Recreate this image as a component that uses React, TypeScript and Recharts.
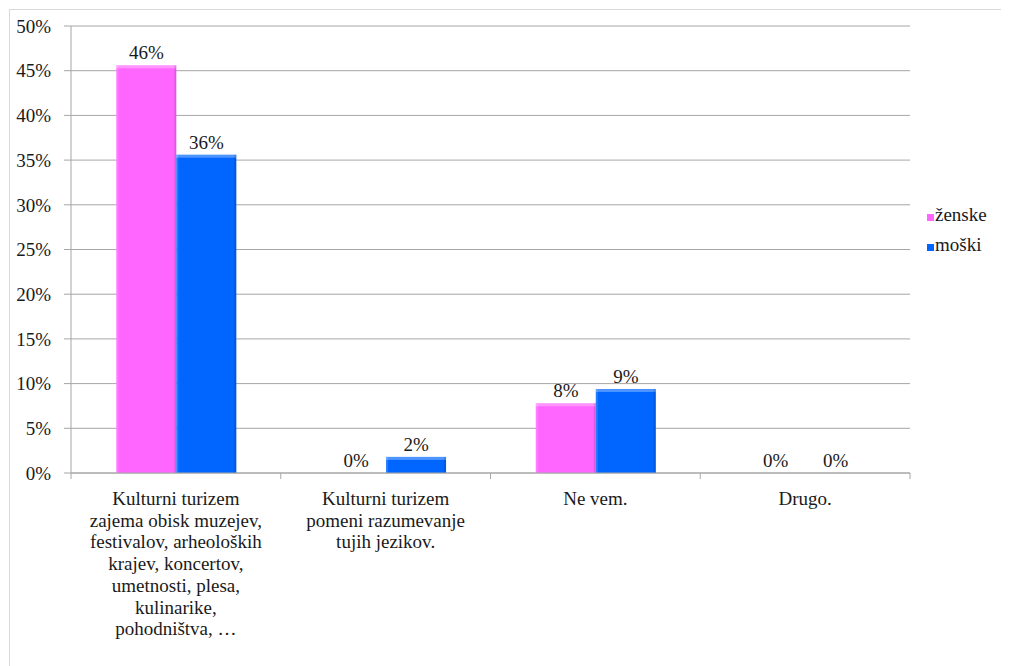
import React from "react";
import {
  BarChart,
  Bar,
  XAxis,
  YAxis,
  CartesianGrid,
  LabelList,
} from "recharts";

const categories = [
  "Kulturni turizem\nzajema obisk muzejev,\nfestivalov, arheoloških\nkrajev, koncertov,\numetnosti, plesa,\nkulinarike,\npohodništva, …",
  "Kulturni turizem\npomeni razumevanje\ntujih jezikov.",
  "Ne vem.",
  "Drugo.",
];
const zenske = [45.6, 0, 7.8, 0];
const moski = [35.6, 1.8, 9.4, 0];
const yTicks = [0, 5, 10, 15, 20, 25, 30, 35, 40, 45, 50];
const seriesNames = ["ženske", "moški"];
const seriesColors = ["#ff66ff", "#0066ff"];

const data = categories.map((c, i) => ({ name: c, zenske: zenske[i], moski: moski[i] }));

const FONT = '"Liberation Serif"';
const TEXT = "#1a1a1a";
const GRID = "#a6a6a6";

function CategoryTick(props: any) {
  const { x, y, payload, index } = props;
  const lines: string[] = String(payload.value).split("\n");
  const half = payload.offset ?? 104.9;
  return (
    <g>
      <line x1={x - half} x2={x - half} y1={y - 8} y2={y - 2} stroke={GRID} />
      {index === categories.length - 1 && (
        <line x1={x + half} x2={x + half} y1={y - 8} y2={y - 2} stroke={GRID} />
      )}
      <text x={x} y={y + 24} textAnchor="middle" style={{ fontFamily: FONT }} fontSize={19} fill={TEXT}>
        {lines.map((l, i) => (
          <tspan key={i} x={x} dy={i === 0 ? 0 : 21.7}>
            {l}
          </tspan>
        ))}
      </text>
    </g>
  );
}

function BevelBar(props: any) {
  const { x, y, width, height, fill } = props;
  if (!height || height <= 0) return null;
  return (
    <g>
      <rect x={x} y={y} width={width} height={height} fill={fill} />
      <rect x={x} y={y} width={width} height={Math.min(3, height)} fill="#ffffff" fillOpacity={0.3} />
      <rect x={x} y={y} width={2} height={height} fill="#ffffff" fillOpacity={0.15} />
      <rect x={x + width - 2} y={y} width={2} height={height} fill="#000000" fillOpacity={0.12} />
    </g>
  );
}

function LegendBox() {
  return (
    <div
      style={{
        position: "absolute",
        left: 919,
        top: 192,
        fontFamily: FONT,
        fontSize: 19,
        color: TEXT,
      }}
    >
      {seriesNames.map((n, i) => (
        <div key={n} style={{ display: "flex", alignItems: "center", height: 30 }}>
          <span
            style={{
              display: "inline-block",
              width: 7,
              height: 7,
              background: seriesColors[i],
              marginRight: 1,
              marginTop: 4,
            }}
          />
          <span>{n}</span>
        </div>
      ))}
    </div>
  );
}

export default function App() {
  return (
    <div style={{ position: "relative", width: 1000, height: 658, fontFamily: FONT }}>
      <div
        style={{
          position: "absolute",
          left: 1,
          top: 1,
          width: 999,
          height: 657,
          borderTop: "1px solid #d9d9d9",
          borderLeft: "1px solid #d9d9d9",
          boxSizing: "border-box",
        }}
      />
      <BarChart
        width={1000}
        height={658}
        data={data}
        margin={{ top: 18, right: 98, left: 0, bottom: 0 }}
        barCategoryGap="21.6%"
        barGap={0}
      >
        <CartesianGrid vertical={false} stroke={GRID} />
        <XAxis
          dataKey="name"
          height={193}
          axisLine={{ stroke: GRID }}
          tickLine={false}
          tick={<CategoryTick />}
          interval={0}
        />
        <YAxis
          width={63}
          domain={[0, 50]}
          ticks={yTicks}
          interval={0}
          tickFormatter={(v: number) => `${v}%`}
          axisLine={{ stroke: GRID }}
          tickLine={{ stroke: GRID }}
          tickSize={7}
          tickMargin={13}
          tick={{ style: { fontFamily: FONT }, fontSize: 19, fill: TEXT }}
        />
        {(["zenske", "moski"] as const).map((k, i) => (
          <Bar
            key={k}
            dataKey={k}
            name={seriesNames[i]}
            fill={seriesColors[i]}
            shape={<BevelBar />}
            isAnimationActive={false}
          >
            <LabelList
              dataKey={k}
              position="top"
              offset={6}
              formatter={(v: any) => `${Math.round(Number(v))}%`}
              style={{ fontFamily: FONT, fontSize: 19, fill: TEXT }}
            />
          </Bar>
        ))}
      </BarChart>
      <LegendBox />
    </div>
  );
}
